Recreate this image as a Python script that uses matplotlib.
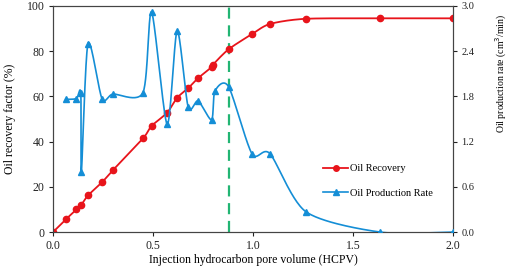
import numpy as np
import matplotlib
matplotlib.use('Agg')
import matplotlib.pyplot as plt
from matplotlib.lines import Line2D

plt.rcParams['font.family'] = ['Liberation Serif', 'DejaVu Serif']

# ---- data ----
rec_x = [0.0, 0.064, 0.117, 0.142, 0.175, 0.245, 0.30, 0.45, 0.493, 0.571, 0.621,
         0.676, 0.726, 0.795, 0.80, 0.878, 0.995, 1.085, 1.265, 1.636, 2.0]
rec_y = [0.0, 5.6, 10.0, 12.1, 16.2, 22.0, 27.4, 41.4, 46.9, 52.8, 59.4,
         63.6, 68.1, 73.0, 74.0, 80.8, 87.5, 92.0, 94.3, 94.5, 94.5]

rate_x = [0.064, 0.117, 0.139, 0.142, 0.175, 0.245, 0.30, 0.45, 0.493, 0.571, 0.621,
          0.676, 0.726, 0.793, 0.81, 0.878, 0.995, 1.085, 1.265, 1.636, 2.0]
rate_y = [1.76, 1.77, 1.84, 0.80, 2.50, 1.77, 1.83, 1.85, 2.92, 1.43, 2.67,
          1.66, 1.74, 1.49, 1.87, 1.93, 1.04, 1.04, 0.27, 0.0, 0.0]

cut_x = 0.878

RED = '#e8141b'
BLUE = '#148ed6'
GREEN = '#22b573'


def smooth(x, y, sx, sy, n=30, k=0.8):
    # cardinal spline through the points (Excel-like smoothed line)
    p = np.column_stack([np.asarray(x) / sx, np.asarray(y) / sy])
    p = np.vstack([p[0], p, p[-1]])
    out = []
    for i in range(1, len(p) - 2):
        p0, p1, p2, p3 = p[i - 1], p[i], p[i + 1], p[i + 2]
        m1 = k * (p2 - p0) / 2
        m2 = k * (p3 - p1) / 2
        t = np.linspace(0, 1, n)[:, None]
        h00 = 2 * t ** 3 - 3 * t ** 2 + 1
        h10 = t ** 3 - 2 * t ** 2 + t
        h01 = -2 * t ** 3 + 3 * t ** 2
        h11 = t ** 3 - t ** 2
        out.append(h00 * p1 + h10 * m1 + h01 * p2 + h11 * m2)
    c = np.vstack(out)
    return c[:, 0] * sx, c[:, 1] * sy


fig = plt.figure(figsize=(5.12, 2.68), dpi=100)
ax = fig.add_axes([0.1035, 0.134, 0.781, 0.844])
ax2 = ax.twinx()

sx, sy = smooth(rec_x, rec_y, 2.0, 100.0)
ax.plot(sx, sy, color=RED, lw=1.3, zorder=3)
ax.plot(rec_x, rec_y, 'o', color=RED, ms=4.5, zorder=4)

bx, by = smooth(rate_x, rate_y, 2.0, 3.0)
ax2.plot(bx, by, color=BLUE, lw=1.2, zorder=3)
ax2.plot(rate_x, rate_y, '^', color=BLUE, ms=5, zorder=4)

ax.axvline(cut_x, color=GREEN, lw=1.6, ls=(0, (5, 3)), zorder=2)

ax.set_xlim(0, 2.0)
ax.set_ylim(0, 100)
ax2.set_ylim(0, 3.0)
ax.set_xticks([0.0, 0.5, 1.0, 1.5, 2.0])
ax.set_xticklabels(['0.0', '0.5', '1.0', '1.5', '2.0'])
ax.set_yticks([0, 20, 40, 60, 80, 100])
ax2.set_yticks([0.0, 0.6, 1.2, 1.8, 2.4, 3.0])
ax2.set_yticklabels(['0.0', '0.6', '1.2', '1.8', '2.4', '3.0'])

for a in (ax, ax2):
    a.tick_params(direction='out', length=3, width=0.8, labelsize=8.5, colors='#222222', pad=3)
    for s in a.spines.values():
        s.set_color('#444444')
        s.set_linewidth(0.8)
ax2.tick_params(labelsize=7.5)

ax.set_xlabel('Injection hydrocarbon pore volume (HCPV)', fontsize=8.5, labelpad=1)
ax.set_ylabel('Oil recovery factor (%)', fontsize=8.5, labelpad=8)
ax2.set_ylabel('Oil production rate (cm$^3$/min)', fontsize=7)
ax2.yaxis.set_label_coords(1.103, 0.70)

handles = [Line2D([], [], color=RED, marker='o', ms=4, lw=1.3),
           Line2D([], [], color=BLUE, marker='^', ms=4.5, lw=1.2)]
ax.legend(handles, ['Oil Recovery', 'Oil Production Rate'], loc='center left',
          bbox_to_anchor=(0.676, 0.226), frameon=False, fontsize=7.5,
          borderpad=0, borderaxespad=0,
          handlelength=2.4, handletextpad=0.2, labelspacing=1.5)

fig.savefig('out.png', dpi=100)
